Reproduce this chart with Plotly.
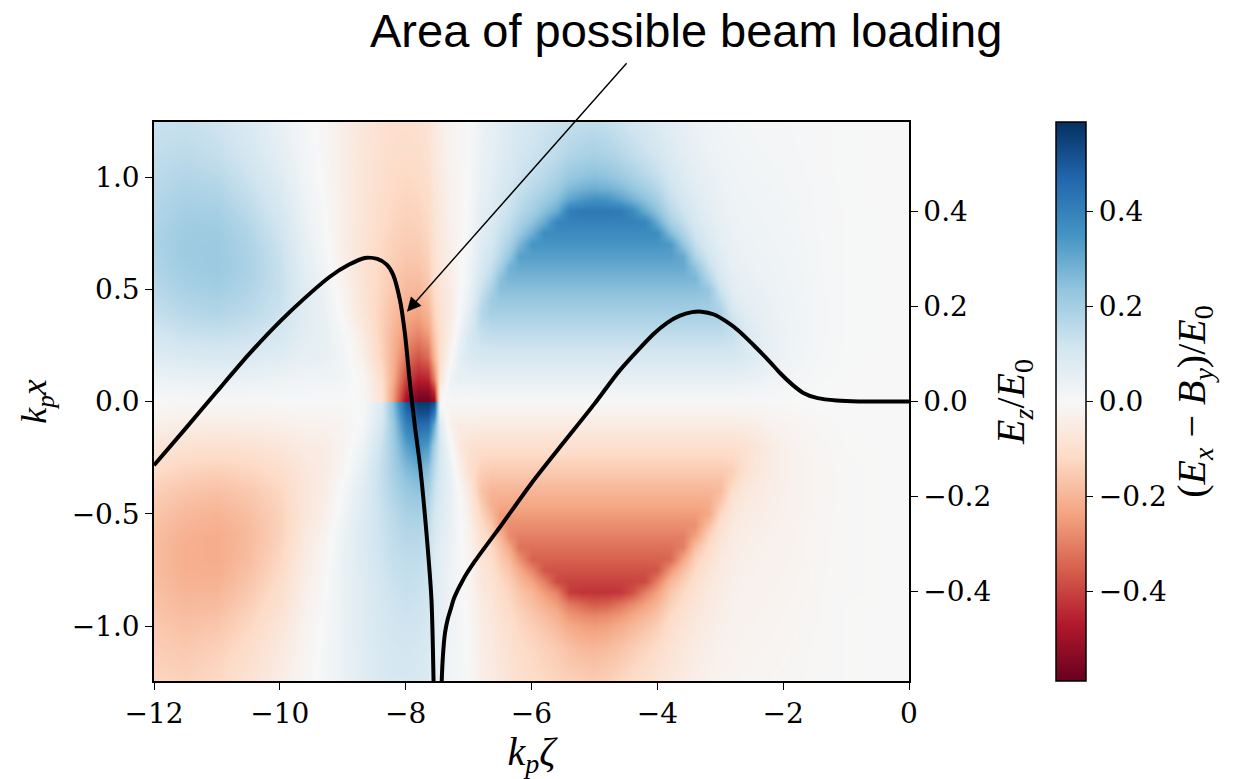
import numpy as np
import plotly.graph_objects as go

# Longitudinal positions k_p*zeta of the field samples (columns)
ZETA_COLS = [-12.0, -11.5, -11.0, -10.5, -10.0, -9.6, -9.3, -9.0, -8.7, -8.4, -8.2,
             -8.0, -7.8, -7.65, -7.55, -7.45, -7.3, -7.15, -7.0, -6.8, -6.65, -6.5,
             -6.35, -6.2, -6.0, -5.8, -5.6, -5.4, -5.2, -5.0, -4.8, -4.6, -4.4, -4.2,
             -4.0, -3.8, -3.6, -3.4, -3.2, -3.0, -2.8, -2.6, -2.4, -2.2, -1.8, -1.4,
             -1.0, 0.0]

# Transverse positions k_p*x of the samples in the upper half (x > 0)
X_UPPER = [0.004, 0.05, 0.1, 0.2, 0.3, 0.35, 0.4, 0.45, 0.5, 0.55, 0.6, 0.65, 0.7,
           0.75, 0.8, 0.85, 0.9, 0.95, 1.0, 1.1, 1.25]

# (Ex - By)/E0 in the upper half, one profile per zeta column (ordered as X_UPPER)
FOCUSING_FIELD_COLUMNS = [
    [0.003, 0.016, 0.033, 0.077, 0.11, 0.127, 0.143, 0.154, 0.165, 0.174, 0.18, 0.184, 0.186, 0.184, 0.18, 0.175, 0.17, 0.165, 0.158, 0.147, 0.13],
    [0.004, 0.02, 0.04, 0.088, 0.132, 0.149, 0.165, 0.179, 0.192, 0.2, 0.208, 0.212, 0.213, 0.211, 0.207, 0.2, 0.192, 0.184, 0.175, 0.158, 0.136],
    [0.004, 0.022, 0.044, 0.094, 0.138, 0.158, 0.176, 0.19, 0.203, 0.212, 0.218, 0.218, 0.217, 0.213, 0.207, 0.197, 0.186, 0.175, 0.164, 0.142, 0.12],
    [0.004, 0.02, 0.041, 0.088, 0.127, 0.143, 0.16, 0.17, 0.18, 0.186, 0.19, 0.188, 0.185, 0.178, 0.169, 0.158, 0.147, 0.136, 0.125, 0.108, 0.087],
    [0.003, 0.016, 0.033, 0.071, 0.104, 0.115, 0.126, 0.132, 0.137, 0.137, 0.136, 0.131, 0.125, 0.118, 0.109, 0.101, 0.093, 0.085, 0.076, 0.06, 0.044],
    [0.003, 0.012, 0.024, 0.05, 0.065, 0.068, 0.07, 0.07, 0.07, 0.065, 0.06, 0.055, 0.05, 0.045, 0.04, 0.035, 0.03, 0.025, 0.02, 0.015, 0.01],
    [0.002, 0.01, 0.025, 0.045, 0.05, 0.048, 0.045, 0.04, 0.035, 0.028, 0.02, 0.015, 0.01, 0.007, 0.005, 0.002, 0.0, -0.003, -0.005, -0.008, -0.01],
    [0.002, 0.008, 0.015, 0.02, 0.01, 0.0, -0.01, -0.015, -0.02, -0.028, -0.035, -0.038, -0.04, -0.04, -0.04, -0.04, -0.04, -0.04, -0.04, -0.04, -0.04],
    [-0.005, -0.005, -0.005, -0.03, -0.05, -0.06, -0.07, -0.075, -0.08, -0.083, -0.085, -0.083, -0.08, -0.078, -0.075, -0.075, -0.075, -0.075, -0.075, -0.072, -0.07],
    [-0.08, -0.09, -0.10, -0.13, -0.14, -0.14, -0.14, -0.135, -0.13, -0.128, -0.125, -0.122, -0.12, -0.115, -0.11, -0.108, -0.105, -0.102, -0.10, -0.095, -0.09],
    [-0.25, -0.24, -0.22, -0.21, -0.2, -0.19, -0.18, -0.17, -0.16, -0.155, -0.15, -0.145, -0.14, -0.135, -0.13, -0.125, -0.12, -0.117, -0.115, -0.105, -0.10],
    [-0.5, -0.45, -0.4, -0.32, -0.26, -0.24, -0.22, -0.205, -0.19, -0.18, -0.17, -0.16, -0.152, -0.146, -0.14, -0.135, -0.13, -0.125, -0.12, -0.11, -0.10],
    [-0.57, -0.52, -0.46, -0.37, -0.29, -0.26, -0.235, -0.215, -0.195, -0.18, -0.168, -0.158, -0.15, -0.142, -0.135, -0.13, -0.125, -0.12, -0.115, -0.105, -0.095],
    [-0.57, -0.52, -0.45, -0.33, -0.25, -0.22, -0.2, -0.18, -0.165, -0.155, -0.145, -0.137, -0.13, -0.125, -0.12, -0.115, -0.11, -0.105, -0.10, -0.09, -0.085],
    [-0.52, -0.42, -0.3, -0.2, -0.16, -0.145, -0.13, -0.12, -0.11, -0.102, -0.095, -0.09, -0.085, -0.082, -0.08, -0.078, -0.075, -0.072, -0.07, -0.065, -0.06],
    [0.0, -0.03, -0.08, -0.10, -0.10, -0.095, -0.09, -0.085, -0.08, -0.075, -0.07, -0.067, -0.065, -0.062, -0.06, -0.058, -0.055, -0.052, -0.05, -0.045, -0.04],
    [0.005, 0.02, 0.03, -0.01, -0.04, -0.045, -0.05, -0.048, -0.045, -0.042, -0.04, -0.037, -0.035, -0.033, -0.03, -0.03, -0.03, -0.027, -0.025, -0.02, -0.02],
    [0.005, 0.025, 0.05, 0.06, 0.03, 0.015, 0.0, -0.005, -0.008, -0.01, -0.01, -0.011, -0.012, -0.012, -0.012, -0.012, -0.012, -0.012, -0.012, -0.012, -0.012],
    [0.005, 0.022, 0.045, 0.09, 0.1, 0.085, 0.065, 0.05, 0.04, 0.03, 0.025, 0.02, 0.016, 0.013, 0.011, 0.01, 0.008, 0.006, 0.005, 0.003, 0.002],
    [0.005, 0.025, 0.05, 0.1, 0.14, 0.16, 0.17, 0.15, 0.13, 0.11, 0.095, 0.085, 0.075, 0.068, 0.062, 0.057, 0.052, 0.048, 0.045, 0.04, 0.035],
    [0.005, 0.025, 0.05, 0.1, 0.15, 0.175, 0.2, 0.21, 0.19, 0.16, 0.14, 0.12, 0.105, 0.095, 0.085, 0.078, 0.07, 0.065, 0.06, 0.055, 0.05],
    [0.005, 0.025, 0.05, 0.1, 0.15, 0.175, 0.2, 0.225, 0.25, 0.245, 0.2, 0.17, 0.15, 0.135, 0.12, 0.11, 0.1, 0.092, 0.085, 0.075, 0.065],
    [0.005, 0.025, 0.05, 0.1, 0.15, 0.175, 0.2, 0.225, 0.25, 0.275, 0.28, 0.23, 0.19, 0.165, 0.145, 0.13, 0.12, 0.11, 0.1, 0.09, 0.08],
    [0.005, 0.025, 0.05, 0.1, 0.15, 0.175, 0.2, 0.225, 0.25, 0.275, 0.3, 0.32, 0.27, 0.22, 0.19, 0.165, 0.15, 0.135, 0.125, 0.11, 0.095],
    [0.005, 0.025, 0.05, 0.1, 0.15, 0.175, 0.2, 0.225, 0.25, 0.275, 0.3, 0.325, 0.35, 0.29, 0.24, 0.2, 0.18, 0.16, 0.145, 0.125, 0.11],
    [0.005, 0.025, 0.05, 0.1, 0.15, 0.175, 0.2, 0.225, 0.25, 0.275, 0.3, 0.325, 0.35, 0.37, 0.3, 0.25, 0.21, 0.185, 0.165, 0.14, 0.12],
    [0.005, 0.025, 0.05, 0.1, 0.15, 0.175, 0.2, 0.225, 0.25, 0.275, 0.3, 0.325, 0.35, 0.375, 0.39, 0.3, 0.25, 0.215, 0.19, 0.155, 0.13],
    [0.005, 0.025, 0.05, 0.1, 0.15, 0.175, 0.2, 0.225, 0.25, 0.275, 0.3, 0.325, 0.35, 0.375, 0.4, 0.41, 0.31, 0.26, 0.225, 0.175, 0.14],
    [0.005, 0.025, 0.05, 0.1, 0.15, 0.175, 0.2, 0.225, 0.25, 0.275, 0.3, 0.325, 0.35, 0.375, 0.4, 0.425, 0.34, 0.28, 0.24, 0.19, 0.145],
    [0.005, 0.025, 0.05, 0.1, 0.15, 0.175, 0.2, 0.225, 0.25, 0.275, 0.3, 0.325, 0.35, 0.375, 0.4, 0.425, 0.36, 0.29, 0.25, 0.195, 0.15],
    [0.005, 0.025, 0.05, 0.1, 0.15, 0.175, 0.2, 0.225, 0.25, 0.275, 0.3, 0.325, 0.35, 0.375, 0.4, 0.425, 0.35, 0.28, 0.24, 0.185, 0.14],
    [0.005, 0.025, 0.05, 0.1, 0.15, 0.175, 0.2, 0.225, 0.25, 0.275, 0.3, 0.325, 0.35, 0.375, 0.4, 0.42, 0.32, 0.26, 0.22, 0.17, 0.125],
    [0.005, 0.025, 0.05, 0.1, 0.15, 0.175, 0.2, 0.225, 0.25, 0.275, 0.3, 0.325, 0.35, 0.375, 0.4, 0.38, 0.28, 0.23, 0.195, 0.15, 0.11],
    [0.005, 0.025, 0.05, 0.1, 0.15, 0.175, 0.2, 0.225, 0.25, 0.275, 0.3, 0.325, 0.35, 0.375, 0.39, 0.3, 0.24, 0.2, 0.17, 0.13, 0.1],
    [0.005, 0.025, 0.05, 0.1, 0.15, 0.175, 0.2, 0.225, 0.25, 0.275, 0.3, 0.325, 0.35, 0.37, 0.3, 0.24, 0.2, 0.17, 0.145, 0.11, 0.08],
    [0.005, 0.025, 0.05, 0.1, 0.15, 0.175, 0.2, 0.225, 0.25, 0.275, 0.3, 0.325, 0.34, 0.26, 0.2, 0.165, 0.14, 0.12, 0.105, 0.085, 0.065],
    [0.005, 0.025, 0.05, 0.1, 0.15, 0.175, 0.2, 0.225, 0.25, 0.275, 0.3, 0.3, 0.23, 0.18, 0.145, 0.12, 0.105, 0.09, 0.08, 0.065, 0.05],
    [0.005, 0.025, 0.05, 0.1, 0.15, 0.175, 0.2, 0.225, 0.25, 0.27, 0.24, 0.18, 0.14, 0.12, 0.1, 0.088, 0.077, 0.068, 0.06, 0.048, 0.036],
    [0.005, 0.025, 0.05, 0.1, 0.15, 0.175, 0.2, 0.22, 0.23, 0.18, 0.14, 0.115, 0.095, 0.082, 0.07, 0.062, 0.056, 0.05, 0.045, 0.036, 0.028],
    [0.005, 0.025, 0.05, 0.1, 0.15, 0.175, 0.19, 0.16, 0.125, 0.1, 0.085, 0.072, 0.062, 0.055, 0.05, 0.045, 0.041, 0.037, 0.034, 0.028, 0.02],
    [0.005, 0.025, 0.05, 0.1, 0.14, 0.13, 0.1, 0.08, 0.068, 0.058, 0.05, 0.045, 0.04, 0.037, 0.034, 0.031, 0.029, 0.027, 0.025, 0.02, 0.015],
    [0.004, 0.022, 0.045, 0.09, 0.095, 0.08, 0.068, 0.058, 0.05, 0.045, 0.04, 0.036, 0.033, 0.03, 0.028, 0.026, 0.024, 0.022, 0.02, 0.017, 0.013],
    [0.004, 0.018, 0.04, 0.07, 0.065, 0.058, 0.052, 0.046, 0.042, 0.038, 0.034, 0.031, 0.029, 0.027, 0.025, 0.023, 0.021, 0.019, 0.018, 0.015, 0.012],
    [0.003, 0.012, 0.025, 0.045, 0.045, 0.043, 0.04, 0.037, 0.034, 0.031, 0.029, 0.027, 0.025, 0.023, 0.021, 0.02, 0.018, 0.017, 0.016, 0.013, 0.01],
    [0.001, 0.006, 0.012, 0.02, 0.024, 0.024, 0.023, 0.022, 0.021, 0.02, 0.019, 0.018, 0.017, 0.016, 0.015, 0.014, 0.013, 0.012, 0.011, 0.009, 0.007],
    [0.0, 0.002, 0.004, 0.008, 0.01, 0.01, 0.01, 0.01, 0.009, 0.009, 0.008, 0.008, 0.008, 0.007, 0.007, 0.006, 0.006, 0.006, 0.005, 0.004, 0.004],
    [0.0, 0.0, 0.001, 0.002, 0.003, 0.003, 0.003, 0.003, 0.003, 0.003, 0.003, 0.003, 0.003, 0.003, 0.003, 0.003, 0.002, 0.002, 0.002, 0.002, 0.002],
    [0.0, 0.0, 0.0, 0.0, 0.0, 0.0, 0.0, 0.0, 0.0, 0.0, 0.0, 0.0, 0.0, 0.0, 0.0, 0.0, 0.0, 0.0, 0.0, 0.0, 0.0],
]

# On-axis accelerating field Ez/E0 along k_p*zeta
EZ_ZETA = [-12.0, -11.5, -11.0, -10.5, -10.0, -9.6, -9.2, -8.9, -8.65, -8.45, -8.3,
           -8.2, -8.09, -8.01, -7.93, -7.85, -7.77, -7.67, -7.59, -7.555, -7.52,
           -7.46, -7.44, -7.41, -7.375, -7.33, -7.28, -7.24, -7.17, -7.1, -7.03,
           -6.9, -6.77, -6.5, -6.0, -5.5, -5.0, -4.6, -4.06, -3.85, -3.65, -3.45,
           -3.3, -3.1, -2.9, -2.7, -2.48, -2.2, -2.05, -1.85, -1.68, -1.45, -1.15,
           -0.8, 0.0]
EZ_VALUES = [-0.134, -0.057, 0.021, 0.098, 0.168, 0.218, 0.263, 0.288, 0.302, 0.300,
             0.288, 0.267, 0.213, 0.141, 0.036, -0.055, -0.137, -0.276, -0.417, -0.6,
             -1.0, -1.0, -0.65, -0.54, -0.487, -0.457, -0.435, -0.417, -0.396, -0.378,
             -0.362, -0.336, -0.312, -0.264, -0.172, -0.088, -0.005, 0.065, 0.142,
             0.165, 0.18, 0.188, 0.189, 0.183, 0.168, 0.148, 0.12, 0.082, 0.06, 0.035,
             0.018, 0.007, 0.002, 0.0, 0.0]

# Tick positions and labels
X_TICKS = [-12, -10, -8, -6, -4, -2, 0]
X_TICKTEXT = ["\u221212", "\u221210", "\u22128", "\u22126", "\u22124", "\u22122", "0"]
Y_TICKS = [-1.0, -0.5, 0.0, 0.5, 1.0]
Y_TICKTEXT = ["\u22121.0", "\u22120.5", "0.0", "0.5", "1.0"]
FIELD_TICKS = [-0.4, -0.2, 0.0, 0.2, 0.4]
FIELD_TICKTEXT = ["\u22120.4", "\u22120.2", "0.0", "0.2", "0.4"]

FIELD_LIMIT = 0.588
X_LIMIT = 1.245

# Diverging red-white-blue map (ColorBrewer RdBu, red = negative)
RDBU = ["rgb(103,0,31)", "rgb(178,24,43)", "rgb(214,96,77)", "rgb(244,165,130)",
        "rgb(253,219,199)", "rgb(247,247,247)", "rgb(209,229,240)", "rgb(146,197,222)",
        "rgb(67,147,195)", "rgb(33,102,172)", "rgb(5,48,97)"]
colorscale = [[i / (len(RDBU) - 1), c] for i, c in enumerate(RDBU)]

# Assemble the full transverse grid: the field is odd in x, so the lower half
# is the upper half reflected with opposite sign.
upper = np.array(FOCUSING_FIELD_COLUMNS).T          # rows = x, cols = zeta
lower = -upper[::-1, :]
z_full = np.vstack([lower, upper])
y_full = [-v for v in X_UPPER[::-1]] + X_UPPER

tick_font = dict(family="DejaVu Serif", size=28, color="black")
title_font = dict(family="Liberation Serif", size=40, color="black")
ytitle_font = dict(family="Liberation Serif", size=36, color="black")

fig = go.Figure()

fig.add_trace(go.Heatmap(
    x=ZETA_COLS, y=y_full, z=z_full,
    zmin=-FIELD_LIMIT, zmax=FIELD_LIMIT,
    colorscale=colorscale, zsmooth="best",
    hoverinfo="skip",
    colorbar=dict(
        x=(1056 - 154) / 755, xanchor="left", xpad=0,
        y=0.5, yanchor="middle", ypad=0,
        len=1.0, lenmode="fraction",
        thickness=30, thicknessmode="pixels",
        outlinewidth=1.5, outlinecolor="black",
        ticks="outside", ticklen=7, tickwidth=1.3, tickcolor="black",
        tickvals=FIELD_TICKS, ticktext=FIELD_TICKTEXT,
        tickfont=tick_font,
        title=dict(
            text="(<i>E</i><sub><i>x</i></sub> \u2212 <i>B</i><sub><i>y</i></sub>)/<i>E</i><sub>0</sub>",
            side="right", font=title_font,
        ),
    ),
))

fig.add_trace(go.Scatter(
    x=EZ_ZETA, y=EZ_VALUES, yaxis="y2", mode="lines",
    line=dict(color="black", width=4, shape="spline", smoothing=0.7),
    hoverinfo="skip", showlegend=False,
))

axis_common = dict(
    showgrid=False, zeroline=False,
    showline=True, linecolor="black", linewidth=1.5,
    ticks="outside", ticklen=7, tickwidth=1.3, tickcolor="black",
    tickfont=tick_font,
)

fig.update_layout(
    width=1245, height=779,
    margin=dict(l=154, r=336, t=122, b=98, pad=0),
    paper_bgcolor="white", plot_bgcolor="white",
    showlegend=False,
    xaxis=dict(
        range=[-12, 0], tickvals=X_TICKS, ticktext=X_TICKTEXT, mirror=True,
        title=dict(text="<i>k</i><sub><i>p</i></sub><i>\u03b6</i>", font=title_font, standoff=4),
        **axis_common,
    ),
    yaxis=dict(
        range=[-X_LIMIT, X_LIMIT], tickvals=Y_TICKS, ticktext=Y_TICKTEXT, mirror=True,
        title=dict(text="<i>k</i><sub><i>p</i></sub><i>x</i>", font=ytitle_font, standoff=14),
        **axis_common,
    ),
    yaxis2=dict(
        overlaying="y", side="right",
        range=[-FIELD_LIMIT, FIELD_LIMIT], tickvals=FIELD_TICKS, ticktext=FIELD_TICKTEXT,
        title=dict(text="<i>E</i><sub><i>z</i></sub>/<i>E</i><sub>0</sub>", font=title_font, standoff=6),
        **axis_common,
    ),
    annotations=[
        dict(
            text="Area of possible beam loading",
            xref="paper", yref="paper",
            x=(686 - 154) / 755, y=(681 - 30) / 559,
            xanchor="center", yanchor="middle",
            showarrow=False,
            font=dict(family="Liberation Sans, Arial, sans-serif", size=47, color="black"),
        ),
        dict(
            text="",
            xref="x", yref="y", x=-7.98, y=0.40,
            axref="pixel", ayref="pixel", ax=221, ay=-250,
            showarrow=True, arrowhead=2, arrowsize=2.0, arrowwidth=1.4,
            arrowcolor="black", standoff=0,
        ),
    ],
)

fig.write_html("out.html")
